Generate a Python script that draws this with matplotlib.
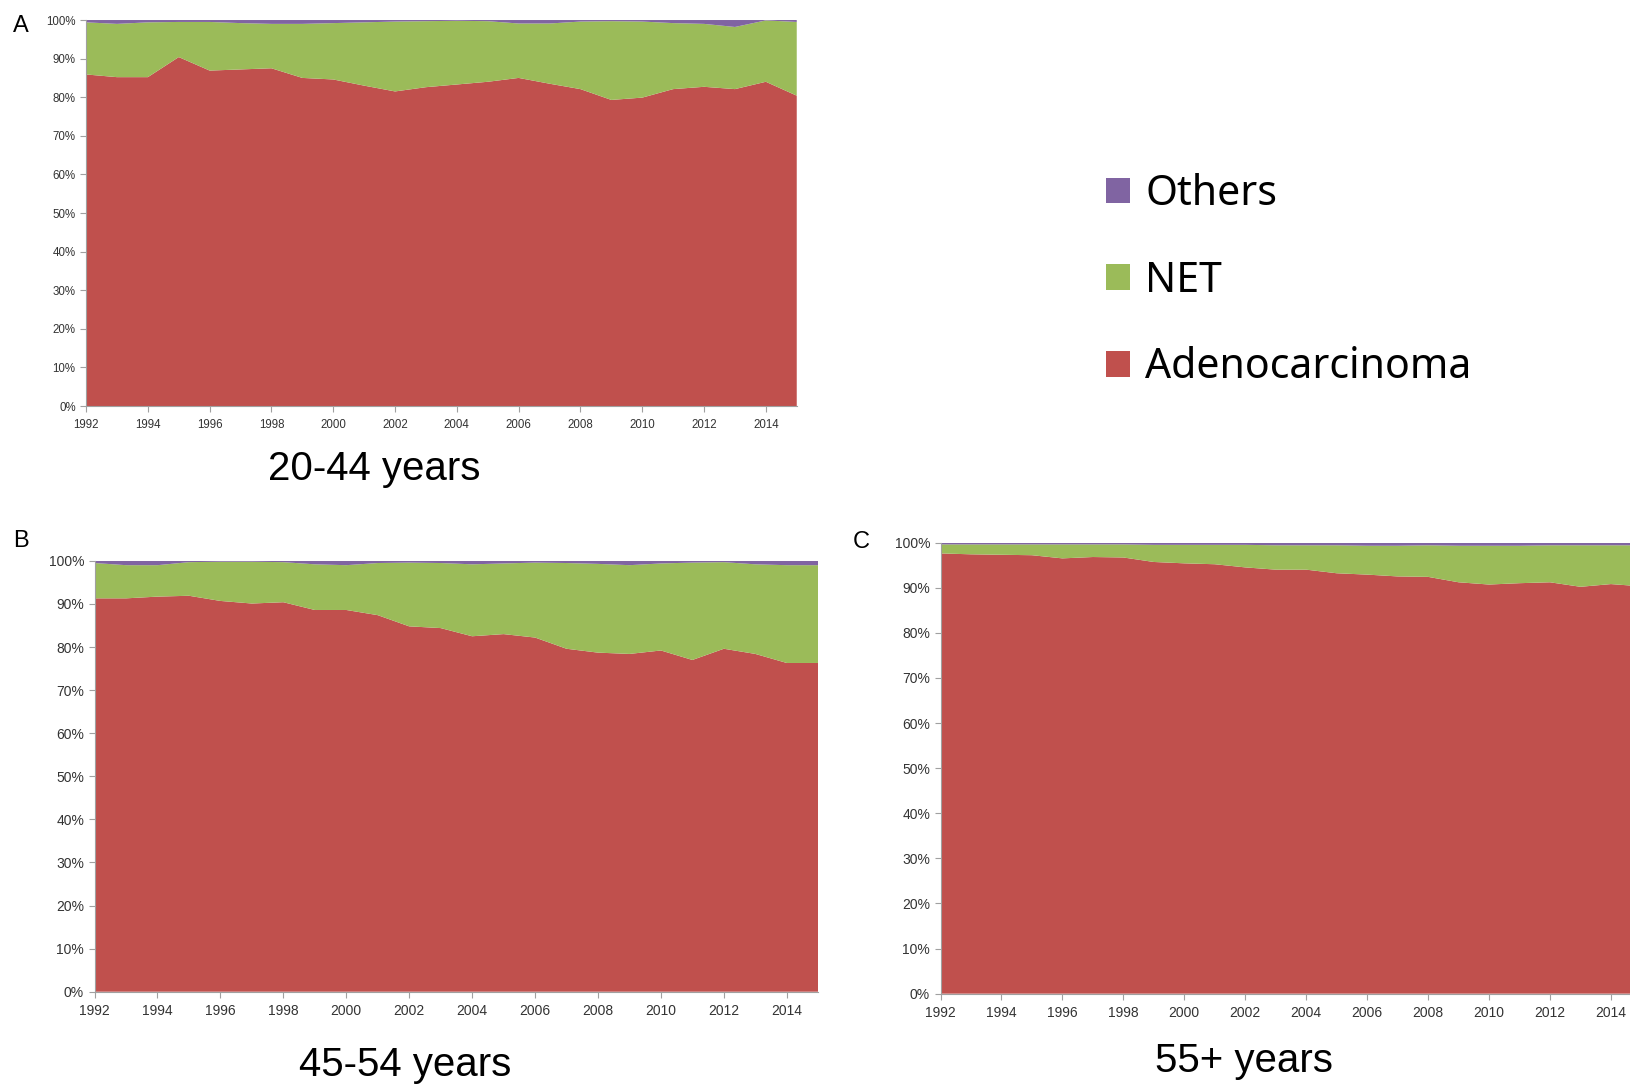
import numpy as np
import matplotlib.pyplot as plt
from matplotlib.patches import Patch
from matplotlib.ticker import FuncFormatter, MultipleLocator

# 연도 (1992-2015)
years = list(range(1992, 2016))

# 20-44세 비율 (%)
adeno_a = [85.9, 85.2, 85.2, 90.4, 86.9, 87.2, 87.5, 85.0, 84.6, 83.0, 81.5, 82.6,
           83.3, 84.0, 85.0, 83.5, 82.1, 79.3, 79.9, 82.1, 82.7, 82.1, 84.0, 80.4]
net_a = [13.5, 13.8, 14.2, 9.1, 12.6, 12.0, 11.5, 14.0, 14.6, 16.4, 18.1, 17.1,
         16.5, 15.7, 14.1, 15.6, 17.5, 20.4, 19.7, 17.1, 16.3, 16.1, 15.9, 19.1]
others_a = [0.6, 1.0, 0.6, 0.5, 0.5, 0.8, 1.0, 1.0, 0.8, 0.6, 0.4, 0.3,
            0.2, 0.3, 0.9, 0.9, 0.4, 0.3, 0.4, 0.8, 1.0, 1.8, 0.1, 0.5]

# 45-54세
adeno_b = [91.3, 91.3, 91.7, 91.9, 90.7, 90.1, 90.4, 88.6, 88.6, 87.4, 84.8, 84.4,
           82.5, 83.0, 82.2, 79.6, 78.7, 78.4, 79.2, 77.0, 79.6, 78.4, 76.3, 76.3]
net_b = [8.2, 7.7, 7.3, 7.8, 9.1, 9.7, 9.3, 10.6, 10.4, 12.1, 14.8, 15.1,
         16.7, 16.4, 17.4, 19.9, 20.6, 20.6, 20.2, 22.6, 20.1, 20.8, 22.7, 22.7]
others_b = [0.5, 1.0, 1.0, 0.3, 0.2, 0.2, 0.3, 0.8, 1.0, 0.5, 0.4, 0.5,
            0.8, 0.6, 0.4, 0.5, 0.7, 1.0, 0.6, 0.4, 0.3, 0.8, 1.0, 1.0]

# 55세 이상
adeno_c = [97.6, 97.4, 97.3, 97.2, 96.5, 96.8, 96.7, 95.7, 95.4, 95.2, 94.5, 94.0,
           94.0, 93.2, 92.9, 92.5, 92.4, 91.2, 90.7, 91.0, 91.2, 90.2, 90.8, 90.3]
net_c = [2.0, 2.2, 2.3, 2.4, 3.1, 2.8, 2.9, 3.8, 4.1, 4.3, 5.0, 5.4,
         5.4, 6.2, 6.4, 6.8, 7.0, 8.1, 8.6, 8.3, 8.2, 9.2, 8.6, 9.1]
others_c = [0.4, 0.4, 0.4, 0.4, 0.4, 0.4, 0.4, 0.5, 0.5, 0.5, 0.5, 0.6,
            0.6, 0.6, 0.7, 0.7, 0.6, 0.7, 0.7, 0.7, 0.6, 0.6, 0.6, 0.6]

labels = ['Adenocarcinoma', 'NET', 'Others']
colors = ['#C0504D', '#9BBB59', '#8064A2']

fig = plt.figure(figsize=(16.3, 10.88), dpi=100)
fig.patch.set_facecolor('white')


def area_panel(rect, adeno, net, others, tick_fs, letter, letter_xy, title, title_xy):
    ax = fig.add_axes(rect)
    ax.stackplot(years, adeno, net, others, colors=colors, linewidth=0)
    ax.set_xlim(1992, 2015)
    ax.set_ylim(0, 100)
    ax.xaxis.set_major_locator(MultipleLocator(2))
    ax.yaxis.set_major_locator(MultipleLocator(10))
    ax.yaxis.set_major_formatter(FuncFormatter(lambda v, p: '%d%%' % v))
    for s in ['top', 'right']:
        ax.spines[s].set_visible(False)
    for s in ['left', 'bottom']:
        ax.spines[s].set_color('#A0A0A0')
        ax.spines[s].set_linewidth(0.8)
    ax.tick_params(axis='both', colors='#A0A0A0', labelcolor='#333333',
                   labelsize=tick_fs, length=4, width=0.8)
    ax.tick_params(axis='x', pad=5)
    for t in ax.get_xticklabels() + ax.get_yticklabels():
        t.set_family('Liberation Sans')
    fig.text(letter_xy[0], letter_xy[1], letter, fontsize=17,
             family='Liberation Sans', ha='left', va='center')
    fig.text(title_xy[0], title_xy[1], title, fontsize=29,
             family='Liberation Sans', ha='center', va='center')
    return ax


area_panel([0.0528, 0.6268, 0.436, 0.3548], adeno_a, net_a, others_a, 8.3,
           'A', (0.008, 0.976), '20-44 years', (0.2295, 0.569))
area_panel([0.058, 0.0885, 0.444, 0.396], adeno_b, net_b, others_b, 10,
           'B', (0.008, 0.503), '45-54 years', (0.2485, 0.021))
area_panel([0.577, 0.0867, 0.430, 0.4146], adeno_c, net_c, others_c, 10,
           'C', (0.523, 0.502), '55+ years', (0.763, 0.025))

# 범례 (위에서부터 Others, NET, Adenocarcinoma)
handles = [Patch(facecolor=c, edgecolor='none') for c in colors[::-1]]
fig.legend(handles, labels[::-1], loc='center left', bbox_to_anchor=(0.6785, 0.742),
           frameon=False, prop={'family': 'Noto Sans', 'size': 29.5},
           handlelength=0.58, handleheight=0.58, handletextpad=0.38,
           labelspacing=1.09, borderpad=0, borderaxespad=0)

plt.savefig('out.png', dpi=100, facecolor='white')
